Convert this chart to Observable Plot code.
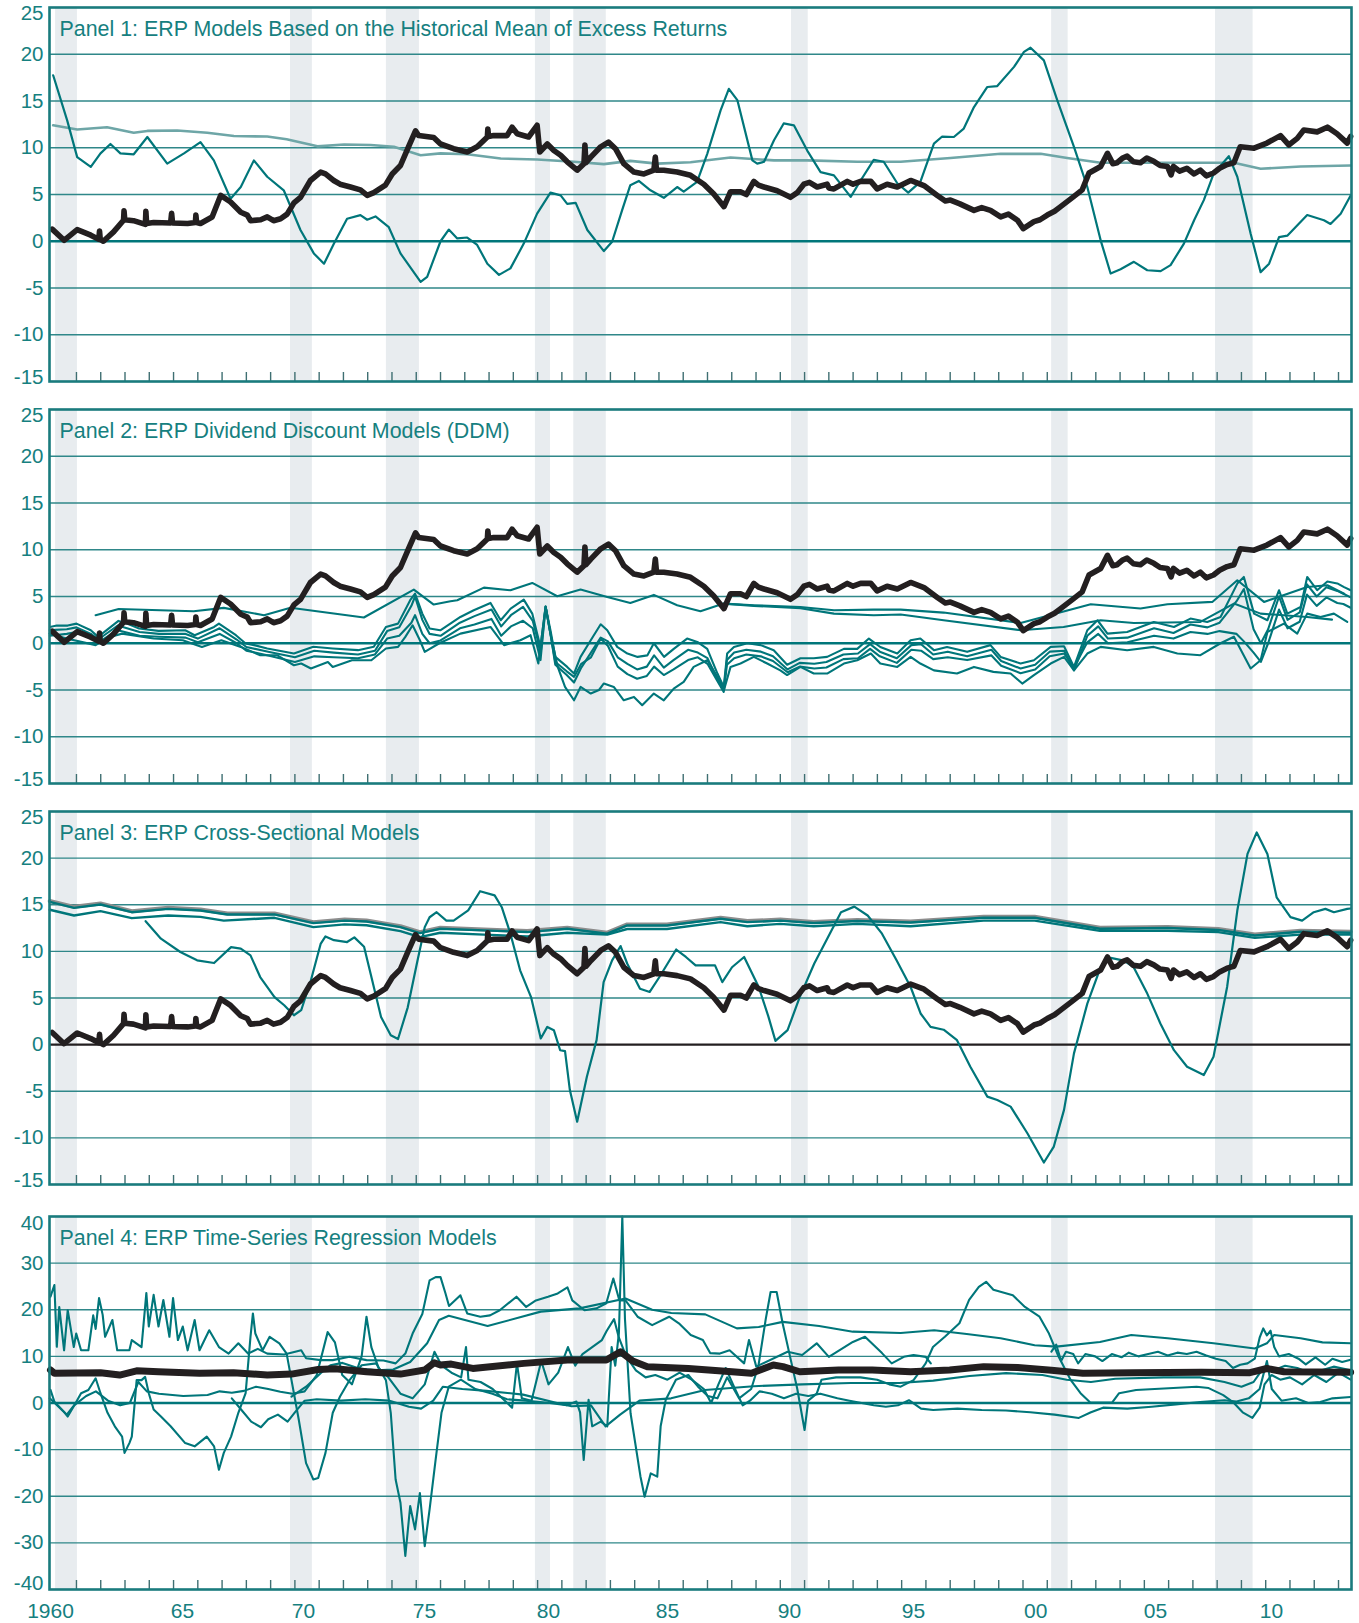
<!DOCTYPE html>
<html><head><meta charset="utf-8">
<script src="https://cdn.jsdelivr.net/npm/d3@7"></script>
<script src="https://cdn.jsdelivr.net/npm/@observablehq/plot@0.6"></script>
<style>
body{margin:0;background:#fff;}
#chart{position:relative;width:1359px;height:1623px;}
#chart svg{display:block;overflow:visible;}
</style></head><body><div id="chart"></div>
<script>
// ---------- shared data ----------
const recessions = [[1960.14,1961.04],[1969.82,1970.72],[1973.77,1975.13],[1979.91,1980.53],[1981.49,1982.83],[1990.46,1991.15],[2001.18,2001.86],[2007.93,2009.48]];
const tickYears = d3.range(1961, 2014);
const xLabelText = ["1960","65","70","75","80","85","90","95","00","05","10"];
const xLabelPos = [1959.93,1965.37,1970.35,1975.34,1980.45,1985.35,1990.38,1995.49,2000.52,2005.46,2010.24];
const panelTitles = ["Panel 1: ERP Models Based on the Historical Mean of Excess Returns","Panel 2: ERP Dividend Discount Models (DDM)","Panel 3: ERP Cross-Sectional Models","Panel 4: ERP Time-Series Regression Models"];

// benchmark (black) used in panels 1-3
const benchmark = [[1960.00,1.3],[1960.49,0.1],[1961.03,1.25],[1961.59,0.65],[1961.92,0.2],[1961.95,1.1],[1961.98,0.2],[1962.11,0.0],[1962.53,1.0],[1962.94,2.25],[1962.96,3.25],[1962.99,2.3],[1963.35,2.2],[1963.84,1.8],[1963.86,3.2],[1963.89,1.9],[1964.18,2.0],[1964.88,1.95],[1964.92,3.0],[1964.96,1.95],[1965.58,1.9],[1965.90,2.0],[1965.92,2.8],[1965.95,2.0],[1966.11,1.9],[1966.59,2.6],[1966.94,4.9],[1967.35,4.2],[1967.77,3.1],[1968.04,2.8],[1968.17,2.2],[1968.59,2.3],[1968.86,2.6],[1969.12,2.2],[1969.41,2.4],[1969.68,2.9],[1969.96,4.1],[1970.23,4.7],[1970.64,6.5],[1971.06,7.4],[1971.26,7.2],[1971.60,6.5],[1971.86,6.1],[1972.29,5.8],[1972.70,5.5],[1972.98,4.9],[1973.25,5.2],[1973.73,6.0],[1974.01,7.2],[1974.35,8.1],[1974.68,10.1],[1974.97,11.8],[1975.10,11.3],[1975.72,11.1],[1976.00,10.4],[1976.54,9.9],[1977.10,9.55],[1977.51,10.1],[1977.93,11.15],[1977.95,12.0],[1977.98,11.2],[1978.19,11.3],[1978.74,11.3],[1978.95,12.2],[1979.16,11.5],[1979.63,11.15],[1979.98,12.4],[1980.09,9.55],[1980.40,10.4],[1980.67,9.7],[1980.95,9.2],[1981.22,8.5],[1981.63,7.6],[1981.91,8.3],[1981.95,10.3],[1981.99,8.4],[1982.19,9.0],[1982.60,10.1],[1982.92,10.6],[1983.21,9.9],[1983.55,8.3],[1983.97,7.4],[1984.38,7.2],[1984.79,7.6],[1984.85,9.0],[1984.90,7.6],[1985.20,7.6],[1985.75,7.4],[1986.30,7.05],[1986.85,6.1],[1987.26,5.05],[1987.68,3.7],[1987.95,5.3],[1988.36,5.3],[1988.60,5.0],[1988.91,6.4],[1989.10,6.0],[1989.33,5.8],[1989.87,5.4],[1990.42,4.7],[1990.70,5.2],[1990.97,6.1],[1991.20,6.3],[1991.52,5.8],[1991.93,6.1],[1992.00,5.7],[1992.21,5.6],[1992.76,6.4],[1993.00,6.1],[1993.31,6.4],[1993.73,6.4],[1993.99,5.6],[1994.40,6.1],[1994.82,5.8],[1995.37,6.5],[1995.92,5.95],[1996.47,4.9],[1996.80,4.3],[1997.01,4.4],[1997.40,4.0],[1997.98,3.3],[1998.30,3.6],[1998.66,3.3],[1999.08,2.6],[1999.40,2.9],[1999.77,2.25],[2000.01,1.35],[2000.45,2.1],[2000.70,2.3],[2001.00,2.8],[2001.30,3.2],[2001.55,3.7],[2002.10,4.8],[2002.44,5.5],[2002.72,7.3],[2003.20,8.0],[2003.48,9.4],[2003.70,8.3],[2003.88,8.4],[2004.10,8.9],[2004.29,9.1],[2004.55,8.5],[2004.84,8.4],[2005.10,8.9],[2005.39,8.55],[2005.65,8.1],[2005.95,8.0],[2006.10,7.1],[2006.20,8.0],[2006.45,7.5],[2006.75,7.8],[2007.05,7.2],[2007.31,7.6],[2007.55,7.0],[2007.85,7.3],[2008.10,7.8],[2008.41,8.2],[2008.69,8.4],[2008.95,10.1],[2009.52,9.95],[2010.05,10.5],[2010.61,11.3],[2010.95,10.3],[2011.30,11.0],[2011.57,11.9],[2012.12,11.7],[2012.54,12.2],[2012.94,11.5],[2013.36,10.5],[2013.50,11.2]];

// ---------- panel 1 ----------
const p1HistMeanShort = [[1960.04,17.75],[1960.62,12.9],[1961.03,9.0],[1961.59,7.95],[1961.99,9.4],[1962.40,10.4],[1962.81,9.4],[1963.36,9.3],[1963.92,11.15],[1964.74,8.3],[1965.43,9.4],[1966.11,10.6],[1966.66,8.65],[1967.35,4.55],[1967.77,5.8],[1968.31,8.65],[1968.86,6.9],[1969.54,5.45],[1970.23,1.2],[1970.78,-1.3],[1971.20,-2.4],[1971.61,-0.25],[1972.15,2.4],[1972.70,2.8],[1972.98,2.3],[1973.32,2.65],[1973.87,1.5],[1974.35,-1.3],[1975.18,-4.35],[1975.45,-3.8],[1976.00,0.0],[1976.34,1.25],[1976.69,0.3],[1977.10,0.4],[1977.51,-0.4],[1977.93,-2.4],[1978.41,-3.6],[1978.88,-2.9],[1979.43,-0.25],[1979.98,2.95],[1980.53,5.2],[1980.95,4.9],[1981.22,4.0],[1981.57,4.1],[1982.05,1.2],[1982.73,-1.05],[1983.07,-0.05],[1983.48,3.3],[1983.82,6.0],[1984.17,6.45],[1984.65,5.45],[1985.20,4.65],[1985.75,5.8],[1986.02,5.3],[1986.57,6.35],[1986.99,9.35],[1987.54,14.0],[1987.88,16.3],[1988.23,15.1],[1988.85,8.65],[1989.05,8.3],[1989.33,8.5],[1989.74,10.8],[1990.14,12.6],[1990.56,12.4],[1991.11,9.7],[1991.66,7.4],[1992.21,7.05],[1992.90,4.75],[1993.31,6.5],[1993.85,8.7],[1994.26,8.5],[1994.82,6.2],[1995.27,5.2],[1995.77,6.35],[1996.33,10.45],[1996.67,11.2],[1997.15,11.15],[1997.56,12.05],[1997.98,14.35],[1998.53,16.5],[1998.94,16.6],[1999.63,18.65],[2000.04,20.25],[2000.31,20.7],[2000.86,19.35],[2001.41,15.1],[2002.10,10.1],[2002.65,5.8],[2003.20,0.1],[2003.61,-3.45],[2004.02,-3.0],[2004.57,-2.2],[2005.12,-3.1],[2005.67,-3.2],[2006.08,-2.55],[2006.63,-0.25],[2007.05,2.25],[2007.45,4.4],[2007.86,7.25],[2008.48,9.1],[2008.83,6.9],[2009.38,0.8],[2009.79,-3.3],[2010.14,-2.4],[2010.55,0.45],[2010.89,0.6],[2011.71,2.8],[2012.40,2.25],[2012.67,1.85],[2013.09,2.95],[2013.50,4.9]];
const p1HistMeanLong = [[1960.04,12.4],[1961.03,11.95],[1962.26,12.2],[1963.36,11.6],[1963.92,11.8],[1965.15,11.85],[1966.39,11.6],[1967.49,11.25],[1968.86,11.2],[1969.66,10.9],[1970.93,10.15],[1972.03,10.35],[1973.12,10.3],[1974.08,10.1],[1975.18,9.2],[1976.00,9.4],[1977.10,9.3],[1978.48,8.85],[1979.98,8.75],[1981.49,8.5],[1982.73,8.25],[1983.82,8.6],[1984.92,8.3],[1986.30,8.45],[1987.95,8.95],[1989.74,8.65],[1991.11,8.65],[1993.17,8.5],[1994.96,8.5],[1997.01,8.9],[1999.08,9.35],[2000.73,9.35],[2001.82,8.9],[2003.20,8.4],[2005.95,8.4],[2008.69,8.4],[2009.79,7.75],[2011.44,8.0],[2013.50,8.1]];

// ---------- panel 2 ----------
const p2SmoothA = [[1961.79,3.0],[1962.74,3.67],[1965.83,3.42],[1967.07,3.78],[1968.73,3.0],[1969.82,3.8],[1972.84,2.75],[1974.90,5.74],[1975.72,4.14],[1976.41,4.49],[1976.69,4.6],[1977.79,5.95],[1978.88,5.67],[1979.78,6.45],[1980.81,5.03],[1981.77,5.74],[1982.87,4.95],[1983.82,4.31],[1984.79,5.17],[1985.75,4.06],[1986.71,3.42],[1987.67,4.24],[1988.91,4.06],[1990.83,3.88],[1992.21,3.53],[1993.85,3.6],[1994.96,3.6],[1996.73,3.28],[1999.90,2.17],[2002.79,4.17],[2004.84,3.71],[2005.95,4.17],[2007.80,4.42],[2008.83,6.74],[2009.93,4.42],[2011.71,6.02],[2012.54,6.2],[2013.23,5.3]];
const p2SmoothB = [[1987.67,4.24],[1988.91,4.0],[1990.83,3.75],[1992.21,3.17],[1993.85,3.0],[1994.96,3.07],[1996.73,2.46],[1999.90,1.39],[2001.67,1.74],[2003.20,2.46],[2004.57,2.17],[2007.31,2.28],[2008.69,4.24],[2009.79,3.17],[2011.71,2.81],[2012.73,2.53]];
const p2NoisyC = [[1959.91,1.74],[1960.19,1.9],[1960.64,1.89],[1961.00,2.1],[1961.59,1.39],[1961.89,0.68],[1962.73,2.39],[1963.08,2.1],[1963.58,1.57],[1964.38,1.32],[1965.48,1.39],[1965.87,0.86],[1966.67,1.74],[1966.87,2.1],[1967.57,0.86],[1967.97,-0.03],[1968.32,-0.2],[1968.86,-0.56],[1969.96,-1.1],[1970.76,-0.38],[1971.56,-0.56],[1972.60,-0.74],[1973.25,-0.38],[1973.75,1.74],[1974.25,2.1],[1974.75,4.6],[1974.95,5.3],[1975.25,3.17],[1975.55,1.57],[1975.99,1.39],[1976.82,2.81],[1977.37,3.53],[1978.06,4.31],[1978.48,2.46],[1978.89,3.71],[1979.43,4.67],[1979.78,3.17],[1979.98,1.03],[1980.12,-0.39],[1980.33,3.88],[1980.53,1.39],[1980.73,-1.46],[1981.22,-2.53],[1981.50,-3.24],[1981.77,-1.46],[1982.19,0.32],[1982.60,2.03],[1982.87,1.39],[1983.28,-0.39],[1983.70,-1.1],[1984.12,-1.46],[1984.52,-1.3],[1984.79,0.0],[1985.21,-1.46],[1985.61,-0.6],[1986.16,0.5],[1986.61,0.1],[1986.99,-0.6],[1987.41,-3.24],[1987.67,-4.67],[1987.81,-1.1],[1988.09,-0.39],[1988.64,0.0],[1989.19,-0.2],[1989.73,-0.74],[1990.28,-2.3],[1990.83,-1.6],[1991.38,-1.6],[1991.93,-1.46],[1992.62,-0.6],[1993.17,-0.6],[1993.65,0.5],[1994.12,-0.4],[1994.82,-1.1],[1995.37,0.32],[1995.77,0.5],[1996.33,-0.74],[1996.87,-0.4],[1997.70,-0.92],[1998.66,-0.2],[1999.08,-1.46],[1999.90,-2.17],[2000.45,-1.82],[2001.14,-0.39],[2001.69,-0.32],[2002.10,-2.53],[2002.65,1.39],[2003.07,2.46],[2003.48,1.03],[2004.29,1.2],[2005.39,2.28],[2006.22,1.74],[2006.90,2.64],[2007.59,2.28],[2008.14,2.81],[2008.83,6.38],[2009.10,7.09],[2009.52,3.17],[2010.07,2.46],[2010.55,5.67],[2010.89,3.17],[2011.44,3.88],[2011.71,7.09],[2012.12,5.67],[2012.54,6.6],[2012.95,6.4],[2013.23,6.0],[2013.50,5.67]];
const p2NoisyD = [[1959.9,1.4],[1960.6,1.5],[1961.0,1.7],[1961.6,1.0],[1961.9,0.4],[1962.7,1.9],[1963.6,1.2],[1964.4,1.0],[1965.5,1.0],[1966.0,0.5],[1966.9,1.6],[1967.6,0.4],[1968.0,-0.4],[1968.9,-0.9],[1970.0,-1.5],[1970.8,-0.8],[1971.6,-1.0],[1972.6,-1.2],[1973.3,-0.8],[1973.8,1.3],[1974.3,1.7],[1974.8,4.0],[1974.95,5.0],[1975.25,2.5],[1975.55,1.0],[1976.0,0.8],[1976.8,2.2],[1977.4,2.9],[1978.1,3.6],[1978.5,1.8],[1978.9,3.0],[1979.4,3.9],[1979.8,2.4],[1980.0,0.4],[1980.12,-1.2],[1980.33,3.9],[1980.53,1.0],[1980.73,-2.3],[1981.2,-3.4],[1981.5,-4.2],[1981.8,-2.6],[1982.2,-1.0],[1982.6,0.6],[1982.9,0.2],[1983.3,-1.5],[1983.7,-2.2],[1984.1,-2.8],[1984.5,-2.5],[1984.8,-1.3],[1985.2,-2.6],[1985.6,-1.8],[1986.2,-0.7],[1986.6,-1.0],[1987.0,-1.6],[1987.4,-3.8],[1987.67,-4.9],[1987.8,-1.8],[1988.1,-1.0],[1988.6,-0.7],[1989.2,-0.9],[1989.7,-1.4],[1990.3,-2.8],[1990.8,-2.1],[1991.4,-2.2],[1991.9,-2.0],[1992.6,-1.2],[1993.2,-1.1],[1993.7,-0.1],[1994.1,-0.9],[1994.8,-1.6],[1995.4,-0.2],[1995.8,-0.1],[1996.3,-1.2],[1996.9,-0.9],[1997.7,-1.4],[1998.7,-0.7],[1999.1,-1.9],[1999.9,-2.7],[2000.5,-2.3],[2001.1,-0.9],[2001.7,-0.8],[2002.1,-2.9],[2002.65,0.8],[2003.1,1.8],[2003.5,0.5],[2004.3,0.6],[2005.4,1.6],[2006.2,1.1],[2006.9,2.0],[2007.6,1.7],[2008.1,2.2],[2008.8,4.5],[2009.1,5.8],[2009.5,1.5],[2009.8,0.0],[2010.1,1.5],[2010.55,5.0],[2010.9,2.5],[2011.4,3.3],[2011.7,6.3],[2012.1,5.0],[2012.5,6.0],[2012.95,5.6],[2013.2,5.3],[2013.5,4.9]];
const p2NoisyE = [[1959.9,0.8],[1960.6,1.0],[1961.0,1.2],[1961.6,0.6],[1961.9,0.1],[1962.7,1.4],[1963.6,0.8],[1964.4,0.7],[1965.5,0.6],[1966.0,0.1],[1966.9,1.0],[1967.6,0.0],[1968.0,-0.8],[1968.9,-1.3],[1970.0,-2.0],[1970.8,-1.4],[1971.6,-1.5],[1972.6,-1.6],[1973.3,-1.2],[1973.8,0.5],[1974.3,0.8],[1974.8,2.2],[1974.95,3.0],[1975.25,1.0],[1975.55,0.0],[1976.0,0.3],[1976.8,1.6],[1977.4,2.0],[1978.1,2.6],[1978.5,0.8],[1978.9,1.8],[1979.4,2.4],[1979.8,1.6],[1980.0,-0.5],[1980.12,-1.8],[1980.33,3.9],[1980.53,1.0],[1980.73,-2.0],[1981.2,-3.0],[1981.5,-3.6],[1981.8,-2.2],[1982.2,-1.5],[1982.6,0.5],[1982.9,-0.3],[1983.3,-2.5],[1983.7,-3.3],[1984.1,-3.8],[1984.5,-3.5],[1984.8,-2.5],[1985.2,-3.4],[1985.6,-2.8],[1986.2,-1.8],[1986.6,-1.5],[1987.0,-2.2],[1987.4,-4.0],[1987.67,-5.2],[1987.8,-2.3],[1988.1,-1.6],[1988.6,-1.2],[1989.2,-1.4],[1989.7,-1.9],[1990.3,-3.1],[1990.8,-2.5],[1991.4,-2.7],[1991.9,-2.6],[1992.6,-1.7],[1993.2,-1.6],[1993.7,-0.6],[1994.1,-1.4],[1994.8,-2.1],[1995.4,-0.7],[1995.8,-0.8],[1996.3,-1.7],[1996.9,-1.5],[1997.7,-1.8],[1998.7,-1.3],[1999.1,-2.4],[1999.9,-3.2],[2000.5,-2.8],[2001.1,-1.4],[2001.7,-1.1],[2002.1,-2.6],[2002.65,0.1],[2003.1,1.0],[2003.5,0.0],[2004.3,0.1],[2005.4,0.8],[2006.2,0.5],[2006.9,1.2],[2007.6,1.0],[2008.1,1.3],[2008.8,1.0],[2009.1,0.2],[2009.5,-1.0],[2009.8,-2.0],[2010.1,0.0],[2010.55,3.6],[2010.9,1.6],[2011.4,2.3],[2011.7,5.2],[2012.1,4.0],[2012.5,4.9],[2012.95,4.3],[2013.2,4.2],[2013.5,3.8]];
const p2NoisyF = [[1959.89,1.03],[1960.59,0.5],[1961.79,-0.2],[1962.38,0.68],[1962.88,1.03],[1964.18,0.5],[1965.38,0.32],[1966.17,-0.39],[1966.97,0.32],[1967.77,-0.39],[1968.57,-1.28],[1969.26,-1.28],[1969.96,-2.35],[1970.26,-2.17],[1970.66,-2.7],[1971.36,-2.0],[1971.56,-2.53],[1972.35,-1.82],[1973.15,-1.82],[1973.75,-0.56],[1974.25,-0.39],[1974.55,0.68],[1974.85,1.92],[1975.15,0.32],[1975.35,-0.92],[1975.95,0.0],[1976.82,1.03],[1978.06,1.74],[1978.62,-0.2],[1979.29,0.32],[1979.71,0.86],[1980.03,-2.17],[1980.33,3.95],[1980.53,1.03],[1980.83,-2.53],[1981.13,-4.67],[1981.50,-6.1],[1981.77,-4.67],[1982.19,-5.38],[1982.53,-5.0],[1982.73,-4.3],[1983.14,-4.67],[1983.55,-6.1],[1983.97,-5.74],[1984.31,-6.63],[1984.79,-5.38],[1985.20,-6.1],[1985.61,-4.85],[1986.02,-4.13],[1986.43,-2.53],[1986.99,-1.82],[1987.41,-3.6],[1987.68,-5.0],[1987.95,-2.53],[1988.36,-2.17],[1988.91,-1.46],[1989.46,-2.17],[1990.00,-2.9],[1990.28,-3.4],[1990.83,-2.53],[1991.38,-3.24],[1991.93,-3.24],[1992.62,-2.17],[1993.17,-1.82],[1993.73,-1.1],[1994.12,-2.17],[1994.82,-2.53],[1995.37,-1.46],[1995.77,-2.17],[1996.33,-2.9],[1997.28,-3.24],[1997.98,-2.53],[1998.78,-3.06],[1999.49,-3.24],[1999.97,-4.31],[2000.45,-3.4],[2001.14,-2.17],[2001.69,-1.46],[2002.10,-2.9],[2002.65,-1.1],[2003.20,-0.39],[2004.29,-0.74],[2005.39,-0.39],[2006.36,-1.1],[2007.31,-1.28],[2008.14,0.0],[2008.69,0.7],[2009.38,-2.7],[2009.79,-1.82],[2010.07,1.2],[2010.75,2.1],[2011.30,1.03],[2011.71,3.17],[2012.26,2.81],[2012.81,3.17],[2013.36,2.28]];

// ---------- panel 3 ----------
const p3PairUpper = [[1959.9,15.3],[1960.9,14.67],[1961.99,15.03],[1963.28,14.2],[1964.78,14.56],[1966.11,14.38],[1967.22,13.96],[1969.16,13.96],[1970.76,13.03],[1972.05,13.3],[1972.95,13.2],[1974.35,12.6],[1975.15,11.96],[1975.99,12.43],[1977.79,12.25],[1979.57,12.07],[1981.22,12.43],[1982.87,11.9],[1983.69,12.78],[1985.33,12.78],[1987.54,13.5],[1988.64,13.14],[1990.0,13.3],[1991.38,13.04],[1993.17,13.25],[1995.37,13.1],[1998.38,13.6],[2000.48,13.6],[2003.17,12.43],[2005.96,12.5],[2008.05,12.3],[2009.55,11.7],[2011.44,12.1],[2013.5,12.0]];
const p3PairLower = [[1959.9,14.46],[1960.9,13.85],[1961.99,14.31],[1963.28,13.56],[1964.78,13.85],[1966.11,13.7],[1967.07,13.3],[1969.16,13.6],[1970.76,12.6],[1972.05,12.9],[1972.95,12.8],[1974.35,12.17],[1975.15,11.53],[1975.99,12.0],[1977.79,11.8],[1979.57,11.6],[1981.22,12.0],[1982.87,11.8],[1983.69,12.4],[1985.33,12.4],[1987.54,13.14],[1988.64,12.7],[1990.0,12.95],[1991.38,12.7],[1993.17,12.95],[1995.37,12.7],[1998.38,13.3],[2000.48,13.3],[2003.17,12.2],[2005.96,12.2],[2008.05,12.07],[2009.55,11.45],[2011.44,11.8],[2013.5,11.8]];
const p3Volatile = [[1963.85,13.24],[1964.48,11.36],[1965.28,9.93],[1965.97,9.04],[1966.67,8.75],[1967.37,10.46],[1967.77,10.3],[1968.17,9.57],[1968.57,7.25],[1969.16,5.1],[1969.56,4.22],[1969.96,3.15],[1970.26,3.69],[1970.66,6.9],[1971.06,10.8],[1971.26,11.6],[1971.61,11.2],[1972.15,11.0],[1972.45,11.5],[1972.85,10.5],[1973.12,7.6],[1973.55,2.97],[1973.95,1.0],[1974.25,0.6],[1974.65,4.0],[1975.05,9.0],[1975.35,12.6],[1975.55,13.66],[1975.84,14.2],[1976.24,13.3],[1976.54,13.3],[1977.14,14.4],[1977.63,16.45],[1978.23,16.0],[1978.53,14.7],[1978.88,11.9],[1979.28,7.97],[1979.73,5.1],[1980.13,0.66],[1980.40,1.9],[1980.67,1.55],[1980.93,-0.6],[1981.13,-0.7],[1981.33,-4.87],[1981.63,-8.26],[1982.03,-3.44],[1982.43,0.48],[1982.72,6.7],[1983.07,9.04],[1983.42,10.57],[1983.69,8.7],[1984.22,6.0],[1984.62,5.65],[1985.02,7.25],[1985.71,10.2],[1986.11,9.4],[1986.51,8.5],[1987.31,8.5],[1987.61,6.7],[1988.01,8.3],[1988.51,9.4],[1989.11,6.18],[1989.51,3.0],[1989.80,0.4],[1990.30,1.55],[1990.80,5.1],[1991.40,8.7],[1991.90,11.2],[1992.50,14.2],[1993.05,14.8],[1993.60,13.85],[1994.19,11.9],[1994.79,9.04],[1995.37,6.18],[1995.78,3.34],[1996.19,1.9],[1996.73,1.6],[1997.28,0.48],[1997.83,-2.37],[1998.53,-5.58],[1998.94,-5.94],[1999.49,-6.65],[2000.18,-9.5],[2000.86,-12.64],[2001.27,-10.93],[2001.69,-7.0],[2002.10,-0.94],[2002.65,4.4],[2003.20,8.3],[2003.61,9.3],[2004.16,9.0],[2004.56,8.3],[2005.12,5.47],[2005.66,2.27],[2006.22,-0.59],[2006.76,-2.37],[2007.45,-3.26],[2007.85,-1.3],[2008.41,6.18],[2008.83,14.38],[2009.25,20.45],[2009.63,22.76],[2010.07,20.45],[2010.45,15.8],[2011.02,13.67],[2011.50,13.3],[2011.98,14.2],[2012.46,14.56],[2012.81,14.2],[2013.36,14.56],[2013.50,14.6]];

// ---------- panel 4 ----------
const p4Benchmark = [[1959.93,7.07],[1960.09,6.4],[1961.99,6.5],[1962.78,6.0],[1963.48,6.9],[1964.38,6.7],[1966.07,6.4],[1967.47,6.5],[1968.86,6.0],[1969.86,6.2],[1970.96,7.2],[1971.66,7.35],[1972.95,6.7],[1974.35,6.2],[1975.35,7.07],[1975.74,8.63],[1976.00,8.14],[1976.44,8.35],[1977.33,7.42],[1979.43,8.5],[1981.23,9.2],[1982.83,9.2],[1983.42,11.0],[1983.92,9.0],[1984.52,7.78],[1986.21,7.42],[1988.01,6.7],[1988.81,6.4],[1989.71,8.14],[1990.11,7.8],[1990.80,6.7],[1992.40,7.06],[1993.79,7.06],[1995.37,6.7],[1996.98,7.07],[1998.38,7.8],[1999.78,7.6],[2001.17,7.0],[2002.47,6.4],[2004.56,6.5],[2007.35,6.6],[2009.35,6.5],[2010.05,7.4],[2010.75,6.7],[2013.50,6.6]];
const p4NoisyTop = [[1959.93,22.8],[1960.09,25.3],[1960.19,12.05],[1960.29,20.6],[1960.49,11.3],[1960.64,19.9],[1960.89,12.0],[1960.99,14.9],[1961.19,11.3],[1961.49,11.3],[1961.69,18.8],[1961.79,15.9],[1961.93,22.5],[1962.08,18.9],[1962.18,14.2],[1962.48,17.8],[1962.68,11.3],[1963.18,11.3],[1963.28,13.5],[1963.68,12.0],[1963.88,23.6],[1963.98,16.4],[1964.18,23.2],[1964.38,16.4],[1964.58,22.1],[1964.83,14.2],[1964.98,22.5],[1965.18,13.5],[1965.38,16.4],[1965.58,11.3],[1965.87,17.8],[1966.07,11.3],[1966.47,15.6],[1966.87,12.0],[1967.27,10.6],[1967.67,12.8],[1968.07,10.6],[1968.47,11.6],[1968.86,10.6],[1969.56,10.4],[1970.26,11.3],[1970.46,9.6],[1971.06,9.2],[1971.56,9.2],[1972.25,9.9],[1972.95,9.2],[1973.65,9.1],[1974.15,8.5],[1974.55,10.6],[1974.85,14.9],[1975.25,19.1],[1975.55,26.3],[1975.80,27.0],[1976.00,27.0],[1976.20,23.6],[1976.35,20.8],[1976.82,23.1],[1977.10,19.2],[1977.64,18.5],[1978.04,18.8],[1978.44,19.9],[1979.13,22.8],[1979.53,20.6],[1979.93,22.0],[1980.43,22.8],[1980.83,23.5],[1981.23,24.8],[1981.43,22.0],[1981.93,19.9],[1982.43,20.3],[1982.83,21.4],[1983.12,26.7],[1983.37,22.0],[1983.62,22.0],[1984.12,18.5],[1984.72,16.7],[1985.42,18.5],[1985.82,17.1],[1986.31,14.6],[1986.81,13.5],[1987.11,10.7],[1987.51,10.6],[1987.91,11.3],[1988.51,8.5],[1988.71,13.5],[1989.01,7.8],[1990.30,11.0],[1990.90,10.3],[1991.50,12.8],[1992.00,9.9],[1992.99,13.1],[1993.49,14.2],[1994.19,10.7],[1994.59,8.5],[1995.09,9.9],[1995.49,10.3],[1995.99,9.9],[1996.20,8.5]];
const p4NoisyLate = [[2001.17,11.0],[2001.37,12.5],[2001.57,9.0],[2001.77,11.0],[2002.07,10.5],[2002.27,8.5],[2002.57,10.5],[2002.97,10.0],[2003.27,9.0],[2003.66,10.5],[2004.06,9.8],[2004.36,10.8],[2004.76,10.0],[2005.16,10.5],[2005.56,11.0],[2005.96,10.2],[2006.36,10.8],[2006.75,10.5],[2007.15,11.0],[2007.55,10.2],[2007.95,9.5],[2008.35,9.0],[2008.65,7.5],[2008.95,8.2],[2009.25,8.5],[2009.55,9.5],[2009.75,14.0],[2009.90,16.0],[2010.05,14.5],[2010.20,15.5],[2010.35,12.0],[2010.55,10.0],[2010.95,10.5],[2011.35,9.5],[2011.65,8.3],[2012.05,9.8],[2012.45,8.2],[2012.75,9.5],[2013.15,8.8],[2013.50,9.3]];
const p4Smooth = [[1969.86,1.35],[1970.46,3.5],[1971.06,6.4],[1971.46,8.1],[1971.96,8.6],[1972.65,7.4],[1973.35,7.0],[1974.05,7.2],[1974.75,8.8],[1975.45,12.8],[1975.94,17.8],[1976.34,18.7],[1977.94,16.5],[1980.13,19.6],[1981.73,20.3],[1983.62,22.4],[1984.72,20.0],[1985.51,19.3],[1986.91,19.0],[1988.21,16.0],[1989.11,16.3],[1990.10,17.4],[1991.60,16.5],[1992.99,15.3],[1994.96,15.0],[1996.34,15.6],[1997.68,14.8],[1999.08,13.9],[2000.48,12.4],[2001.37,12.1],[2003.17,13.1],[2004.46,14.6],[2005.96,13.9],[2007.85,12.8],[2009.55,11.7],[2010.05,12.8],[2010.35,14.6],[2011.44,13.9],[2012.34,13.0],[2013.50,12.8]];
const p4Swing = [[1959.93,2.8],[1960.09,0.3],[1960.49,-1.9],[1960.64,-2.9],[1960.89,-0.7],[1961.19,2.1],[1961.49,2.8],[1961.79,5.3],[1961.99,2.1],[1962.28,-2.1],[1962.58,-5.0],[1962.88,-7.2],[1962.98,-10.7],[1963.18,-8.6],[1963.28,-7.2],[1963.48,4.9],[1963.68,4.9],[1963.83,5.6],[1963.98,2.1],[1964.18,-1.4],[1964.48,-2.9],[1964.88,-5.0],[1965.48,-8.6],[1965.87,-9.3],[1966.37,-7.2],[1966.67,-9.3],[1966.87,-14.3],[1967.07,-10.7],[1967.37,-7.2],[1967.67,-2.1],[1967.97,2.1],[1968.17,14.2],[1968.27,19.2],[1968.37,14.9],[1968.67,11.3],[1968.96,14.2],[1969.36,12.8],[1969.66,10.6],[1969.86,4.9],[1970.16,-3.6],[1970.46,-12.9],[1970.76,-16.4],[1970.96,-16.1],[1971.26,-10.7],[1971.56,-2.1],[1971.86,1.4],[1972.25,4.9],[1972.75,8.1],[1973.35,8.5],[1973.75,4.9],[1973.95,-2.1],[1974.15,-16.4],[1974.35,-21.4],[1974.55,-32.8],[1974.75,-22.1],[1974.95,-27.1],[1975.15,-19.3],[1975.35,-30.7],[1975.55,-22.8],[1975.80,-12.1],[1976.04,-2.1],[1976.34,3.5],[1976.84,5.0],[1977.44,3.0],[1978.14,2.0],[1978.74,0.8],[1979.50,0.5],[1980.50,0.0],[1981.20,-0.5],[1981.60,0.3],[1981.75,-2.0],[1981.90,-12.2],[1982.10,0.7],[1982.25,-5.0],[1982.60,-4.0],[1982.87,-5.0],[1983.05,12.0],[1983.20,8.0],[1983.35,15.0],[1983.49,40.0],[1983.60,18.0],[1983.83,-2.2],[1984.24,-15.8],[1984.41,-20.1],[1984.66,-15.1],[1984.93,-15.8],[1985.07,-5.0],[1985.28,0.7],[1985.70,5.0],[1986.21,6.0],[1986.61,3.5],[1987.01,1.5],[1987.41,1.0],[1987.81,5.5],[1988.30,1.0],[1988.80,3.0],[1989.10,8.0],[1989.40,18.0],[1989.60,23.8],[1989.85,23.8],[1990.10,17.0],[1990.40,10.0],[1990.70,3.0],[1991.00,-5.8],[1991.15,0.5],[1991.50,2.0],[1991.70,5.0],[1992.30,5.5],[1993.30,5.5],[1993.99,5.0],[1994.49,4.0],[1994.96,3.5],[1995.49,4.9],[1995.99,8.5],[1996.29,12.0],[1996.78,14.2],[1997.38,17.1],[1997.78,22.1],[1998.18,24.9],[1998.48,26.0],[1998.78,24.3],[1999.58,23.1],[2000.08,20.6],[2000.68,18.5],[2001.07,14.9],[2001.47,9.9],[2001.97,4.9],[2002.37,2.1],[2002.77,0.1],[2003.67,0.1],[2003.96,2.1],[2004.66,2.8],[2007.15,3.5],[2007.65,3.2],[2008.25,1.7],[2008.65,0.2],[2009.05,-2.0],[2009.45,-3.2],[2009.75,-1.0],[2009.95,4.0],[2010.24,6.0],[2010.60,5.0],[2011.00,5.5],[2011.50,4.0],[2012.00,6.0],[2012.50,4.5],[2013.00,6.5],[2013.50,5.0]];
const p4Mid = [[1959.9,1.0],[1960.2,-0.5],[1960.6,-2.5],[1960.9,-0.5],[1961.4,1.5],[1961.8,2.5],[1962.3,0.5],[1962.8,-0.5],[1963.2,0.0],[1963.55,4.5],[1963.9,2.5],[1964.4,2.0],[1965.4,1.5],[1966.4,1.7],[1966.9,2.5],[1967.4,2.2],[1967.9,2.6],[1968.4,3.5],[1968.9,3.0],[1969.4,2.4],[1969.9,2.0],[1970.4,2.5],[1970.9,6.0],[1971.35,15.2],[1971.65,13.0],[1971.95,6.0],[1972.35,4.0],[1972.75,10.0],[1972.95,18.5],[1973.15,12.0],[1973.45,7.5],[1973.85,5.5],[1974.35,2.0],[1974.85,1.0],[1975.35,4.0],[1975.75,11.0],[1976.05,8.0],[1976.45,6.5],[1976.85,5.5],[1977.05,12.0],[1977.15,5.0],[1977.65,4.5],[1978.15,3.0],[1978.65,0.5],[1978.95,-1.0],[1979.15,8.5],[1979.35,1.0],[1979.75,0.5],[1980.15,9.0],[1980.45,4.0],[1980.85,6.5],[1981.25,12.0],[1981.55,8.0],[1981.85,10.5],[1982.25,12.0],[1982.65,13.5],[1982.85,15.5],[1983.15,18.0],[1983.35,14.0],[1983.65,10.0],[1984.05,7.0],[1984.45,5.5],[1984.85,6.0],[1985.35,5.0],[1985.85,6.5],[1986.35,5.0],[1986.85,3.0],[1987.15,0.0],[1987.45,4.0],[1987.75,7.5],[1988.05,4.0],[1988.45,-0.5],[1988.75,0.5],[1989.15,2.5],[1989.65,2.0],[1990.15,1.0],[1990.65,2.0],[1991.15,1.5],[1991.65,2.0],[1992.35,1.0],[1992.85,0.5],[1993.35,0.0],[1993.85,-0.5],[1994.35,-0.8],[1994.85,-0.5],[1995.30,0.6],[1995.80,-1.2],[1996.30,-1.5],[1997.30,-1.2],[1998.30,-1.5],[1999.30,-1.6],[2000.30,-2.0],[2001.30,-2.5],[2002.30,-3.2],[2002.80,-2.0],[2003.30,-1.0],[2004.30,-1.2],[2005.30,-0.8],[2006.30,-0.3],[2007.30,0.2],[2008.30,0.6],[2008.80,0.3],[2009.30,1.0],[2009.75,3.0],[2010.05,9.0],[2010.25,3.0],[2010.65,0.5],[2011.25,1.0],[2011.75,0.0],[2012.25,0.2],[2012.75,1.0],[2013.50,1.3]];
const p4Lower = [[1967.4,1.0],[1967.8,-1.5],[1968.2,-4.0],[1968.6,-5.2],[1968.9,-3.5],[1969.3,-2.5],[1969.7,-4.0],[1970.0,-2.0],[1970.4,0.5],[1970.9,0.8],[1971.9,0.5],[1972.9,0.8],[1973.9,0.5],[1974.7,-0.8],[1975.2,-1.2],[1975.7,0.5],[1976.1,3.5],[1976.9,3.0],[1977.9,2.6],[1979.4,1.8],[1980.8,0.0],[1981.4,-0.7],[1982.2,-0.5],[1982.8,-5.0],[1983.4,-2.5],[1984.2,0.5],[1985.5,1.0],[1986.9,2.8],[1988.9,3.6],[1990.9,4.0],[1992.9,4.3],[1994.9,4.3],[1996.3,4.8],[1997.8,5.8],[1999.3,6.4],[2000.8,6.0],[2001.8,5.0],[2002.8,4.5],[2003.8,5.2],[2005.8,5.5],[2007.3,5.5],[2008.3,4.5],[2009.0,3.5],[2009.5,4.5],[2009.9,7.5],[2010.3,7.0],[2010.8,8.0],[2011.3,7.5],[2011.8,6.5],[2012.3,7.0],[2012.8,7.8],[2013.5,7.0]];

// ---------- styles ----------
const FONT = "'Liberation Sans', Arial, Helvetica, sans-serif";
const TEAL = "#00767a";
const TEAL_LIGHT = "#6ea6a7";
const FRAME = "#1a7b7d";
const GRID = "#2f8789";
const TXT = "#16807f";
const SHADE = "#e8ecef";
const BLACK = "#231f20";
const TICKC = "#3f6f72";
const X_DOMAIN = [1959.889, 2013.535];

function teal(data, w = 2.1, color = TEAL) {
  return Plot.line(data, {x: d => d[0], y: d => d[1], stroke: color, strokeWidth: w, strokeLinejoin: "round"});
}
function blackLine(data, w = 5.6) {
  return Plot.line(data, {x: d => d[0], y: d => d[1], stroke: BLACK, strokeWidth: w, strokeLinejoin: "round", strokeLinecap: "round"});
}

function makePanel(cfg) {
  const {height, mt, mb, yMin, yMax, step, zeroColor, title, lines, topDy, botDy, xLabels} = cfg;
  const ppu = (height - mt - mb) / (yMax - yMin);
  const grid = d3.range(yMin + step, yMax, step).filter(v => v !== 0);
  const mid = d3.range(yMin + step, yMax, step);
  const lab = {frameAnchor: "left", textAnchor: "end", dx: -6, fontSize: 20.5, fill: TXT, y: d => d, text: d => String(d)};
  const marks = [
    Plot.rect(recessions, {x1: d => d[0], x2: d => d[1], fill: SHADE}),
    Plot.ruleY(grid, {stroke: GRID, strokeWidth: 1.3}),
    Plot.ruleY([0], {stroke: zeroColor, strokeWidth: 2.4}),
    ...lines,
    Plot.ruleX(tickYears, {y1: yMin, y2: yMin + 9 / ppu, stroke: TICKC, strokeWidth: 1.4}),
    Plot.frame({stroke: FRAME, strokeWidth: 2.6}),
    Plot.text(mid, lab),
    Plot.text([yMax], {...lab, dy: topDy}),
    Plot.text([yMin], {...lab, dy: botDy}),
    Plot.text([title], {frameAnchor: "top-left", textAnchor: "start", lineAnchor: "middle", dx: 10, dy: 22, fontSize: 21.4, fill: TXT, text: d => d})
  ];
  if (xLabels) {
    marks.push(Plot.text(xLabelPos, {x: d => d, text: (d, i) => xLabelText[i], frameAnchor: "bottom", lineAnchor: "middle", dy: 22, fontSize: 21, fill: TXT}));
  }
  return Plot.plot({
    width: 1359, height, marginLeft: 49, marginRight: 8, marginTop: mt, marginBottom: mb,
    x: {domain: X_DOMAIN, axis: null},
    y: {domain: [yMin, yMax], axis: null},
    style: {fontFamily: FONT, background: "transparent", overflow: "visible"},
    marks
  });
}

const chart = document.getElementById("chart");
chart.append(makePanel({
  height: 395, mt: 7, mb: 14, yMin: -15, yMax: 25, step: 5, zeroColor: TEAL, title: panelTitles[0], topDy: 6, botDy: -4,
  lines: [teal(p1HistMeanLong, 2.6, TEAL_LIGHT), teal(p1HistMeanShort, 2.2), blackLine(benchmark)]
}));
chart.append(makePanel({
  height: 402, mt: 14, mb: 14, yMin: -15, yMax: 25, step: 5, zeroColor: TEAL, title: panelTitles[1], topDy: 6, botDy: -4,
  lines: [teal(p2SmoothA), teal(p2SmoothB), teal(p2NoisyF), teal(p2NoisyE), teal(p2NoisyD), teal(p2NoisyC), blackLine(benchmark)]
}));
chart.append(makePanel({
  height: 401, mt: 14, mb: 14, yMin: -15, yMax: 25, step: 5, zeroColor: BLACK, title: panelTitles[2], topDy: 6, botDy: -4,
  lines: [
    Plot.line(p3PairUpper, {x: d => d[0], y: d => d[1], stroke: "#8d8d8d", strokeWidth: 4, dy: -1}),
    teal(p3PairUpper, 2.4), teal(p3PairLower, 2.4), teal(p3Volatile, 2.2), blackLine(benchmark)
  ]
}));
chart.append(makePanel({
  height: 425, mt: 18, mb: 34, yMin: -40, yMax: 40, step: 10, zeroColor: TEAL, title: panelTitles[3], topDy: 7, botDy: -6, xLabels: true,
  lines: [teal(p4Lower), teal(p4Mid), teal(p4Swing), teal(p4Smooth), teal(p4NoisyLate), teal(p4NoisyTop), blackLine(p4Benchmark, 7)]
}));
</script></body></html>
